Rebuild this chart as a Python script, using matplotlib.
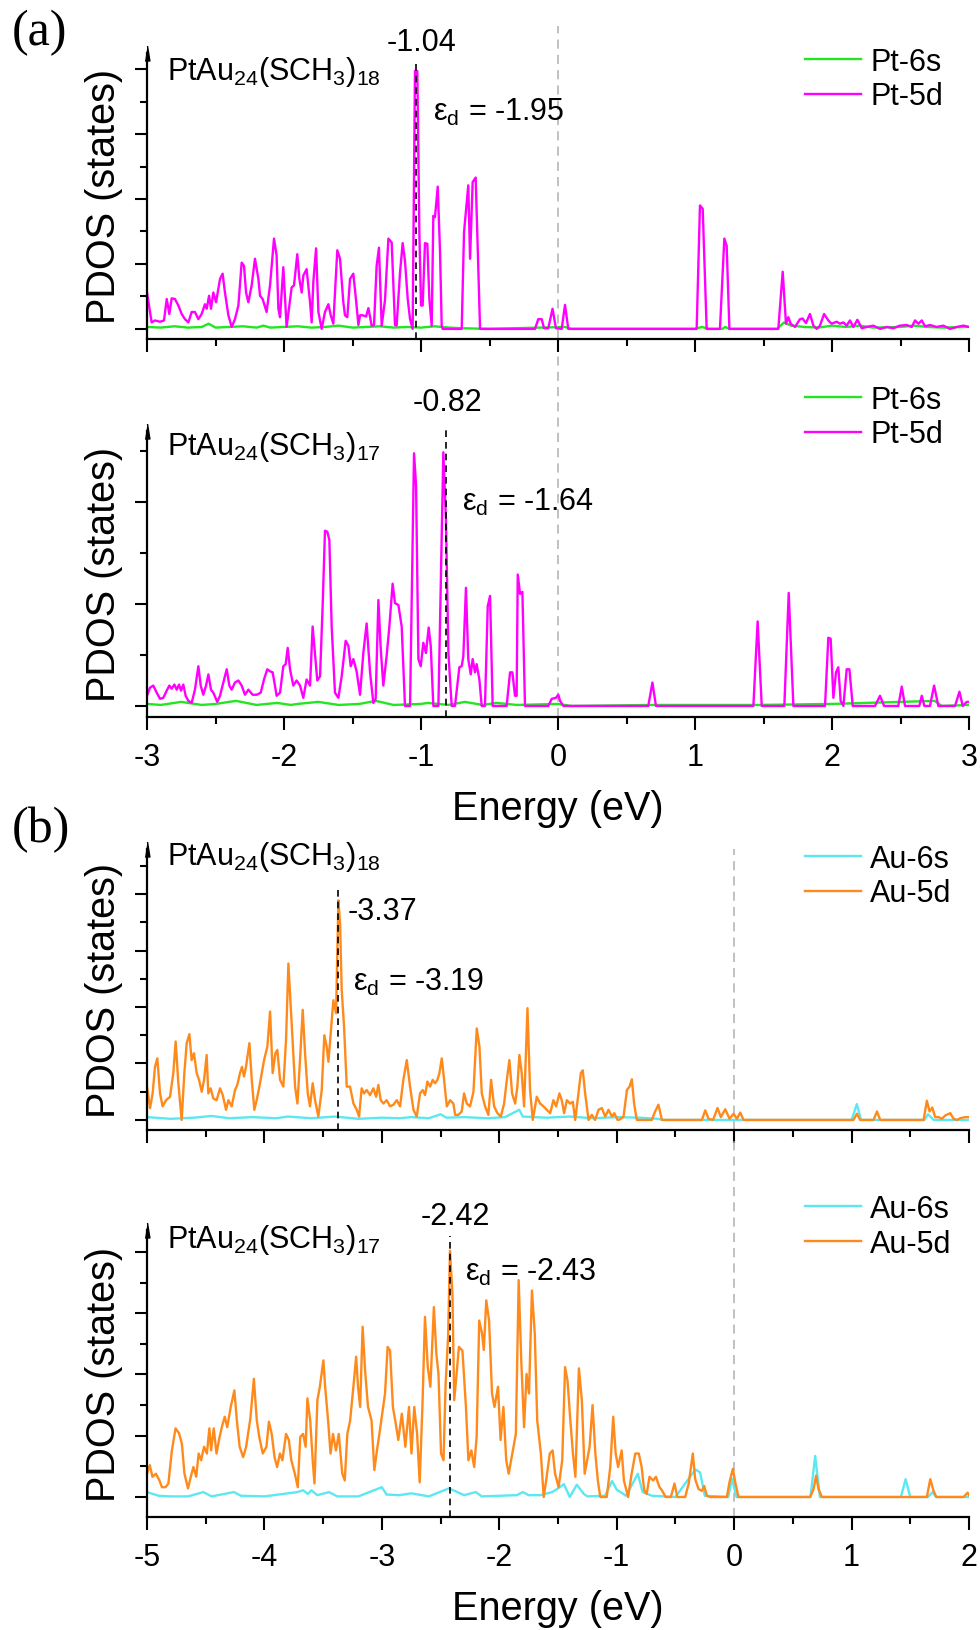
import matplotlib
matplotlib.use('Agg')
import matplotlib.pyplot as plt
from matplotlib.ticker import MultipleLocator

plt.rcParams['font.family'] = ['Liberation Sans', 'DejaVu Sans']
plt.rcParams['mathtext.fontset'] = 'custom'
plt.rcParams['mathtext.rm'] = 'Liberation Sans'
plt.rcParams['mathtext.it'] = 'Liberation Sans:italic'
plt.rcParams['axes.unicode_minus'] = False

# ---- (a) Pt PDOS, PtAu24(SCH3)18 ----
a18_d_e = [-3.000, -2.966, -2.942, -2.905, -2.876, -2.856, -2.837, -2.820, -2.796, -2.771, -2.747, -2.723,
           -2.698, -2.674, -2.650, -2.625, -2.601, -2.577, -2.564, -2.547, -2.533, -2.516, -2.496, -2.479,
           -2.467, -2.448, -2.431, -2.406, -2.382, -2.358, -2.333, -2.309, -2.292, -2.277, -2.260, -2.236,
           -2.212, -2.187, -2.175, -2.156, -2.127, -2.102, -2.073, -2.054, -2.041, -2.029, -2.005, -1.981,
           -1.961, -1.944, -1.927, -1.903, -1.888, -1.871, -1.859, -1.835, -1.810, -1.798, -1.786, -1.766,
           -1.749, -1.725, -1.701, -1.676, -1.659, -1.640, -1.611, -1.591, -1.567, -1.555, -1.538, -1.518,
           -1.494, -1.474, -1.457, -1.445, -1.426, -1.401, -1.384, -1.360, -1.343, -1.324, -1.307, -1.287,
           -1.263, -1.238, -1.214, -1.190, -1.178, -1.153, -1.134, -1.117, -1.097, -1.080, -1.061, -1.044,
           -1.027, -1.012, -1.000, -0.988, -0.971, -0.954, -0.939, -0.922, -0.910, -0.898, -0.878, -0.861,
           -0.849, -0.842, -0.703, -0.686, -0.655, -0.642, -0.623, -0.601, -0.569, -0.168, -0.144, -0.119,
           -0.102, -0.071, -0.040, -0.015, 0.027, 0.051, 0.075, 1.012, 1.036, 1.056, 1.085, 1.182, 1.214,
           1.231, 1.251, 1.608, 1.640, 1.664, 1.681, 1.698, 1.730, 1.766, 1.785, 1.810, 1.839, 1.864, 1.888,
           1.912, 1.942, 1.973, 1.997, 2.034, 2.058, 2.083, 2.107, 2.131, 2.156, 2.185, 2.217, 2.253, 2.302,
           2.350, 2.399, 2.447, 2.496, 2.545, 2.582, 2.606, 2.630, 2.655, 2.679, 2.715, 2.764, 2.813, 2.861,
           2.910, 2.959, 3.000]
a18_d_y = [0.56, 0.10, 0.13, 0.11, 0.13, 0.46, 0.23, 0.47, 0.46, 0.36, 0.23, 0.15,
           0.10, 0.26, 0.26, 0.15, 0.23, 0.38, 0.31, 0.51, 0.31, 0.56, 0.41, 0.62,
           0.77, 0.85, 0.56, 0.21, 0.03, 0.15, 0.36, 1.02, 0.97, 0.56, 0.41, 0.67,
           1.08, 0.77, 0.51, 0.46, 0.26, 0.67, 1.39, 1.13, 0.31, 0.18, 0.95, 0.03,
           0.36, 0.64, 0.67, 1.15, 0.77, 0.56, 0.82, 0.92, 0.41, 0.10, 0.72, 1.24,
           0.26, 0.00, 0.26, 0.38, 0.21, 0.08, 1.21, 1.08, 0.41, 0.21, 0.18, 0.77,
           0.85, 0.44, 0.06, 0.21, 0.21, 0.19, 0.32, 0.05, 0.06, 0.97, 1.25, 0.05,
           0.44, 1.39, 1.33, 0.06, 0.05, 0.87, 1.32, 1.05, 0.46, 0.15, 0.00, 3.97,
           3.97, 1.49, 0.36, 0.36, 1.32, 1.31, 0.46, 0.05, 1.74, 1.72, 2.19, 1.18,
           0.05, 0.00, 0.00, 1.49, 2.21, 1.08, 2.26, 2.33, 0.00, 0.00, 0.15, 0.15,
           0.01, 0.01, 0.31, 0.01, 0.00, 0.37, 0.00, 0.00, 1.90, 1.85, 0.00, 0.00, 1.39,
           1.28, 0.00, 0.00, 0.88, 0.08, 0.18, 0.08, 0.03, 0.15, 0.16, 0.09, 0.23, 0.05, 0.00,
           0.05, 0.23, 0.13, 0.08, 0.11, 0.08, 0.10, 0.05, 0.13, 0.03, 0.14, 0.01, 0.03, 0.05,
           0.00, 0.03, 0.01, 0.05, 0.06, 0.03, 0.13, 0.08, 0.13, 0.04, 0.06, 0.03, 0.05, 0.00,
           0.03, 0.05, 0.03]
a18_s_e = [-3.0, -2.9, -2.8, -2.7, -2.6, -2.55, -2.5, -2.4, -2.3, -2.2, -2.15, -2.1, -2.0, -1.9, -1.8,
           -1.7, -1.6, -1.5, -1.4, -1.3, -1.2, -1.1, -1.0, -0.9, -0.8, -0.7, -0.5, 0.05, 0.1, 1.0, 1.05,
           1.1, 1.2, 1.22, 1.25, 1.6, 1.65, 1.7, 1.8, 1.9, 2.0, 2.1, 2.2, 2.3, 2.5, 2.6, 2.7, 2.8, 3.0]
a18_s_y = [0.03, 0.02, 0.04, 0.02, 0.03, 0.08, 0.02, 0.03, 0.04, 0.02, 0.05, 0.02, 0.03, 0.04, 0.02,
           0.03, 0.05, 0.02, 0.03, 0.04, 0.02, 0.03, 0.02, 0.04, 0.02, 0.01, 0.00, 0.03, 0.00, 0.00, 0.03,
           0.00, 0.00, 0.03, 0.00, 0.00, 0.10, 0.05, 0.03, 0.02, 0.05, 0.03, 0.05, 0.02, 0.03, 0.05, 0.03,
           0.02, 0.03]

# ---- (a) Pt PDOS, PtAu24(SCH3)17 ----
a17_d_e = [-3.000, -2.978, -2.954, -2.929, -2.905, -2.881, -2.856, -2.837, -2.820, -2.800, -2.783, -2.766,
           -2.752, -2.735, -2.718, -2.698, -2.674, -2.650, -2.625, -2.608, -2.589, -2.569, -2.552, -2.533,
           -2.516, -2.487, -2.467, -2.443, -2.418, -2.399, -2.382, -2.358, -2.333, -2.309, -2.285, -2.260,
           -2.229, -2.200, -2.170, -2.146, -2.122, -2.102, -2.083, -2.066, -2.054, -2.029, -2.005, -1.988,
           -1.973, -1.956, -1.932, -1.908, -1.883, -1.859, -1.835, -1.810, -1.791, -1.774, -1.757, -1.737,
           -1.718, -1.701, -1.684, -1.669, -1.652, -1.628, -1.603, -1.579, -1.550, -1.530, -1.513, -1.494,
           -1.470, -1.445, -1.421, -1.397, -1.372, -1.348, -1.331, -1.311, -1.294, -1.275, -1.251, -1.231,
           -1.207, -1.190, -1.165, -1.141, -1.117, -1.080, -1.051, -1.036, -1.019, -1.002, -0.983, -0.964,
           -0.944, -0.929, -0.910, -0.873, -0.837, -0.818, -0.800, -0.776, -0.752, -0.720, -0.703, -0.691,
           -0.672, -0.655, -0.637, -0.623, -0.606, -0.594, -0.574, -0.557, -0.533, -0.513, -0.496, -0.477,
           -0.375, -0.350, -0.333, -0.314, -0.302, -0.294, -0.277, -0.260, -0.241, -0.071, -0.046, -0.015,
           0.002, 0.015, 0.039, 0.659, 0.689, 0.715, 1.426, 1.457, 1.487, 1.652, 1.684, 1.718, 1.949, 1.973,
           1.990, 2.010, 2.029, 2.046, 2.063, 2.083, 2.107, 2.127, 2.151, 2.314, 2.350, 2.380, 2.484, 2.509,
           2.533, 2.637, 2.655, 2.674, 2.715, 2.745, 2.776, 2.898, 2.930, 2.954, 2.983, 3.000]
a17_d_y = [0.10, 0.18, 0.20, 0.13, 0.07, 0.08, 0.15, 0.20, 0.17, 0.21, 0.16, 0.21,
           0.15, 0.21, 0.10, 0.05, 0.03, 0.16, 0.39, 0.20, 0.11, 0.20, 0.31, 0.16,
           0.13, 0.04, 0.10, 0.23, 0.36, 0.20, 0.16, 0.23, 0.25, 0.20, 0.11, 0.16,
           0.11, 0.11, 0.13, 0.26, 0.36, 0.34, 0.33, 0.20, 0.10, 0.13, 0.39, 0.41,
           0.57, 0.36, 0.20, 0.25, 0.20, 0.08, 0.26, 0.20, 0.78, 0.52, 0.25, 0.29,
           0.98, 1.72, 1.71, 1.63, 0.78, 0.13, 0.08, 0.29, 0.64, 0.59, 0.39, 0.46,
           0.34, 0.11, 0.52, 0.81, 0.33, 0.03, 0.07, 1.04, 0.56, 0.20, 0.49, 0.78,
           1.20, 1.01, 0.99, 0.78, 0.00, 0.00, 2.48, 2.16, 0.46, 0.39, 0.62, 0.52,
           0.77, 0.59, 0.00, 0.00, 2.49, 1.83, 0.52, 0.00, 0.00, 0.38, 0.39, 0.49,
           1.16, 0.46, 0.31, 0.46, 0.33, 0.41, 0.26, 0.00, 0.00, 0.98, 1.08, 0.00,
           0.00, 0.33, 0.33, 0.10, 0.10, 1.29, 1.10, 1.12, 0.00, 0.00, 0.07, 0.08,
           0.11, 0.05, 0.00, 0.00, 0.23, 0.00, 0.00, 0.83, 0.00, 0.00, 1.11, 0.00, 0.00, 0.67,
           0.66, 0.08, 0.33, 0.38, 0.05, 0.00, 0.36, 0.36, 0.00, 0.00, 0.10, 0.00, 0.00, 0.19,
           0.00, 0.00, 0.10, 0.00, 0.00, 0.20, 0.00, 0.00, 0.14, 0.00, 0.04, 0.04]
a17_s_e = [-3.0, -2.9, -2.75, -2.6, -2.5, -2.35, -2.2, -2.05, -1.95, -1.9, -1.75, -1.6, -1.45, -1.33,
           -1.2, -1.0, -0.95, -0.8, -0.68, -0.55, -0.45, -0.3, 0.0, 0.1, 0.69, 1.46, 2.0, 2.75, 2.8, 3.0]
a17_s_y = [0.02, 0.01, 0.04, 0.01, 0.02, 0.05, 0.01, 0.03, 0.01, 0.02, 0.04, 0.01, 0.02, 0.05,
           0.01, 0.02, 0.03, 0.01, 0.04, 0.01, 0.03, 0.01, 0.02, 0.00, 0.01, 0.01, 0.02, 0.05, 0.00, 0.01]

# ---- (b) Au PDOS, PtAu24(SCH3)18 ----
b18_d_e = [-5.000, -4.974, -4.952, -4.932, -4.912, -4.889, -4.867, -4.838, -4.804, -4.776, -4.756, -4.733,
           -4.705, -4.682, -4.662, -4.639, -4.620, -4.600, -4.577, -4.557, -4.534, -4.514, -4.492, -4.478,
           -4.458, -4.435, -4.407, -4.378, -4.355, -4.327, -4.307, -4.279, -4.250, -4.231, -4.208, -4.191,
           -4.174, -4.157, -4.128, -4.108, -4.086, -4.066, -4.043, -4.023, -4.003, -3.975, -3.952, -3.930,
           -3.907, -3.890, -3.867, -3.839, -3.816, -3.796, -3.776, -3.759, -3.739, -3.719, -3.697, -3.674,
           -3.654, -3.631, -3.612, -3.589, -3.569, -3.541, -3.512, -3.490, -3.470, -3.455, -3.436, -3.413,
           -3.390, -3.370, -3.356, -3.342, -3.322, -3.299, -3.271, -3.242, -3.214, -3.194, -3.172, -3.152,
           -3.129, -3.101, -3.072, -3.049, -3.030, -3.010, -2.987, -2.959, -2.930, -2.902, -2.873, -2.845,
           -2.817, -2.788, -2.760, -2.731, -2.703, -2.675, -2.652, -2.632, -2.612, -2.589, -2.567, -2.547,
           -2.527, -2.510, -2.490, -2.470, -2.447, -2.419, -2.391, -2.376, -2.348, -2.320, -2.300, -2.277,
           -2.249, -2.220, -2.192, -2.169, -2.149, -2.121, -2.093, -2.070, -2.044, -2.016, -1.987, -1.959,
           -1.936, -1.914, -1.891, -1.865, -1.846, -1.829, -1.809, -1.789, -1.760, -1.738, -1.715, -1.681,
           -1.652, -1.624, -1.596, -1.567, -1.539, -1.516, -1.488, -1.468, -1.448, -1.425, -1.397, -1.374,
           -1.354, -1.326, -1.306, -1.289, -1.269, -1.240, -1.212, -1.184, -1.155, -1.127, -1.098, -1.070,
           -1.041, -1.021, -0.993, -0.971, -0.942, -0.913, -0.891, -0.871, -0.852, -0.829, -0.701, -0.673,
           -0.645, -0.615, -0.275, -0.246, -0.218, -0.180, -0.142, -0.113, -0.076, -0.039, -0.005, 0.023,
           0.052, 0.080, 1.016, 1.045, 1.073, 1.187, 1.216, 1.244, 1.613, 1.641, 1.664, 1.687, 1.712, 1.741,
           1.769, 1.798, 1.840, 1.869, 1.897, 1.925, 1.968, 2.000]
b18_d_y = [0.59, 0.21, 0.47, 0.94, 1.09, 0.47, 0.24, 0.35, 0.41, 0.83, 1.39, 0.65,
           0.00, 0.83, 1.36, 1.52, 1.06, 1.18, 0.83, 0.71, 0.50, 0.71, 1.15, 0.47,
           0.56, 0.38, 0.35, 0.56, 0.44, 0.18, 0.35, 0.24, 0.53, 0.62, 0.83, 0.94,
           0.77, 0.94, 1.36, 0.71, 0.18, 0.35, 0.59, 0.83, 1.06, 1.30, 1.92, 0.83,
           1.18, 1.24, 0.71, 0.59, 1.42, 2.77, 1.99, 1.36, 0.59, 0.29, 1.06, 1.95,
           1.18, 0.47, 0.24, 0.65, 0.35, 0.06, 0.53, 1.50, 1.30, 1.03, 1.53, 2.12,
           1.89, 3.89, 3.48, 2.30, 1.65, 0.59, 0.59, 0.29, 0.18, 0.06, 0.56, 0.47,
           0.53, 0.44, 0.56, 0.41, 0.62, 0.35, 0.29, 0.35, 0.24, 0.27, 0.35, 0.24,
           0.71, 1.06, 0.59, 0.18, 0.06, 0.47, 0.53, 0.44, 0.68, 0.59, 0.71, 0.65,
           0.71, 0.83, 1.09, 0.71, 0.24, 0.35, 0.29, 0.09, 0.09, 0.15, 0.47, 0.29,
           0.24, 0.50, 1.62, 1.30, 0.47, 0.24, 0.09, 0.71, 0.24, 0.12, 0.06, 0.29,
           0.71, 1.06, 0.47, 0.29, 0.59, 1.15, 0.83, 0.24, 1.98, 0.53, 0.00, 0.41,
           0.29, 0.24, 0.18, 0.12, 0.35, 0.24, 0.47, 0.35, 0.12, 0.35, 0.29, 0.32,
           0.00, 0.47, 0.83, 0.88, 0.47, 0.00, 0.09, 0.00, 0.18, 0.21, 0.06, 0.18,
           0.06, 0.12, 0.00, 0.01, 0.06, 0.53, 0.59, 0.72, 0.29, 0.00, 0.00, 0.15,
           0.27, 0.00, 0.00, 0.17, 0.02, 0.00, 0.21, 0.05, 0.19, 0.02, 0.11, 0.02,
           0.13, 0.00, 0.00, 0.11, 0.00, 0.00, 0.15, 0.00, 0.00, 0.34, 0.15, 0.22, 0.05, 0.05,
           0.02, 0.08, 0.12, 0.02, 0.00, 0.03, 0.05, 0.05]
b18_s_e = [-5.0, -4.8, -4.6, -4.45, -4.3, -4.1, -3.9, -3.8, -3.6, -3.4, -3.2, -3.0, -2.85, -2.75, -2.6,
           -2.5, -2.45, -2.3, -2.1, -1.95, -1.83, -1.8, -1.6, -1.4, -1.2, -1.0, -0.8, -0.65, -0.6, 1.0,
           1.045, 1.08, 1.62, 1.65, 1.7, 2.0]
b18_s_y = [0.05, 0.02, 0.04, 0.07, 0.03, 0.05, 0.03, 0.06, 0.03, 0.06, 0.02, 0.04, 0.03, 0.05, 0.03,
           0.10, 0.04, 0.05, 0.03, 0.05, 0.18, 0.06, 0.04, 0.06, 0.03, 0.05, 0.04, 0.02, 0.00, 0.00,
           0.28, 0.00, 0.00, 0.10, 0.00, 0.00]

# ---- (b) Au PDOS, PtAu24(SCH3)17 ----
b17_d_e = [-5.000, -4.976, -4.954, -4.924, -4.894, -4.873, -4.842, -4.818, -4.788, -4.757, -4.727, -4.703,
           -4.681, -4.651, -4.627, -4.605, -4.581, -4.560, -4.539, -4.514, -4.490, -4.469, -4.454, -4.432,
           -4.408, -4.387, -4.363, -4.338, -4.317, -4.287, -4.256, -4.235, -4.211, -4.181, -4.156, -4.120,
           -4.090, -4.065, -4.044, -4.014, -3.983, -3.962, -3.938, -3.914, -3.892, -3.868, -3.847, -3.816,
           -3.792, -3.771, -3.741, -3.716, -3.695, -3.671, -3.649, -3.634, -3.610, -3.589, -3.574, -3.549,
           -3.528, -3.498, -3.483, -3.458, -3.437, -3.416, -3.391, -3.367, -3.337, -3.316, -3.294, -3.270,
           -3.240, -3.219, -3.203, -3.185, -3.164, -3.143, -3.118, -3.088, -3.064, -3.042, -3.021, -2.997,
           -2.973, -2.951, -2.930, -2.906, -2.882, -2.860, -2.830, -2.800, -2.769, -2.748, -2.724, -2.700,
           -2.678, -2.654, -2.633, -2.609, -2.587, -2.557, -2.536, -2.518, -2.496, -2.475, -2.457, -2.436,
           -2.420, -2.399, -2.384, -2.366, -2.344, -2.314, -2.284, -2.263, -2.238, -2.214, -2.193, -2.171,
           -2.147, -2.132, -2.111, -2.087, -2.062, -2.041, -2.011, -1.989, -1.965, -1.941, -1.920, -1.889,
           -1.859, -1.835, -1.813, -1.789, -1.768, -1.747, -1.722, -1.698, -1.677, -1.646, -1.622, -1.601,
           -1.570, -1.546, -1.525, -1.495, -1.464, -1.440, -1.419, -1.395, -1.373, -1.352, -1.322, -1.297,
           -1.273, -1.252, -1.231, -1.206, -1.182, -1.161, -1.140, -1.085, -1.055, -1.030, -1.009, -0.988,
           -0.958, -0.939, -0.903, -0.873, -0.842, -0.812, -0.788, -0.766, -0.745, -0.721, -0.690, -0.666,
           -0.636, -0.615, -0.584, -0.539, -0.508, -0.484, -0.417, -0.387, -0.352, -0.332, -0.303, -0.275,
           -0.255, -0.232, -0.204, -0.062, -0.040, -0.011, 0.009, 0.037, 0.647, 0.676, 0.698, 0.718, 0.747,
           1.641, 1.670, 1.698, 1.721, 1.954, 1.988, 2.000]
b17_d_y = [0.38, 0.52, 0.33, 0.38, 0.27, 0.16, 0.16, 0.22, 0.76, 1.12, 1.04, 0.87,
           0.38, 0.14, 0.33, 0.49, 0.33, 0.71, 0.60, 0.82, 0.71, 1.12, 0.76, 1.12,
           0.71, 0.93, 1.14, 1.31, 1.14, 1.47, 1.74, 1.25, 0.82, 0.65, 0.82, 1.28,
           1.93, 1.25, 0.98, 0.71, 0.82, 1.23, 1.03, 0.65, 0.49, 0.71, 0.60, 1.03,
           0.93, 0.60, 0.38, 0.16, 0.98, 1.03, 0.82, 1.61, 1.25, 0.60, 0.22, 1.58,
           1.80, 2.23, 1.80, 1.25, 0.71, 1.03, 0.76, 1.03, 0.38, 0.27, 1.03, 1.25,
           1.85, 2.29, 1.80, 1.47, 2.78, 2.07, 1.47, 1.25, 0.44, 0.76, 1.03, 1.36,
           1.69, 2.45, 2.39, 1.47, 1.20, 0.93, 1.36, 0.82, 1.47, 0.71, 1.47, 1.03,
           0.24, 1.52, 2.94, 2.12, 1.80, 3.10, 2.34, 2.01, 0.71, 0.60, 1.85, 2.61,
           4.02, 3.32, 1.58, 1.96, 2.45, 2.39, 1.47, 0.60, 0.76, 0.49, 0.98, 2.88,
           2.67, 2.40, 3.21, 2.88, 1.69, 1.47, 1.80, 0.93, 1.47, 0.60, 0.38, 0.71,
           1.03, 3.54, 2.23, 1.14, 2.01, 1.69, 3.37, 2.67, 1.25, 0.71, 0.00, 0.27,
           0.71, 0.76, 0.38, 0.16, 0.60, 2.12, 1.90, 1.25, 0.71, 0.33, 2.10, 1.58,
           0.38, 0.60, 0.82, 1.50, 0.71, 0.27, 0.00, 0.00, 0.49, 1.31, 0.71, 0.49,
           0.76, 0.27, 0.00, 0.38, 0.71, 0.71, 0.49, 0.11, 0.05, 0.33, 0.27, 0.33,
           0.16, 0.11, 0.00, 0.00, 0.22, 0.00, 0.00, 0.22, 0.71, 0.29, 0.13, 0.10,
           0.18, 0.02, 0.00, 0.00, 0.24, 0.46, 0.24, 0.00, 0.00, 0.13, 0.35, 0.13, 0.00,
           0.00, 0.29, 0.10, 0.00, 0.00, 0.07, 0.03]
b17_s_e = [-5.0, -4.95, -4.9, -4.8, -4.65, -4.52, -4.45, -4.26, -4.2, -4.0, -3.72, -3.67, -3.63, -3.6,
           -3.55, -3.45, -3.38, -3.2, -3.0, -2.96, -2.85, -2.75, -2.6, -2.43, -2.38, -2.3, -2.2, -2.15,
           -1.85, -1.8, -1.75, -1.65, -1.55, -1.5, -1.45, -1.4, -1.34, -1.28, -1.25, -1.1, -1.04, -1.0,
           -0.92, -0.82, -0.78, -0.7, -0.5, -0.33, -0.29, -0.25, -0.05, -0.02, 0.02, 0.65, 0.69, 0.73,
           1.42, 1.46, 1.5, 1.65, 1.69, 1.72, 2.0]
b17_s_y = [0.08, 0.05, 0.02, 0.01, 0.01, 0.08, 0.01, 0.08, 0.02, 0.01, 0.08, 0.11, 0.05, 0.11,
           0.03, 0.08, 0.01, 0.01, 0.16, 0.04, 0.03, 0.06, 0.01, 0.14, 0.10, 0.03, 0.08, 0.01,
           0.03, 0.08, 0.03, 0.03, 0.08, 0.14, 0.21, 0.00, 0.20, 0.05, 0.01, 0.02, 0.26, 0.12,
           0.02, 0.38, 0.08, 0.02, 0.00, 0.45, 0.40, 0.02, 0.00, 0.30, 0.00, 0.00, 0.67, 0.00,
           0.00, 0.29, 0.00, 0.00, 0.08, 0.00, 0.00]

titles = [r'PtAu$_{24}$(SCH$_3$)$_{18}$', r'PtAu$_{24}$(SCH$_3$)$_{17}$',
          r'PtAu$_{24}$(SCH$_3$)$_{18}$', r'PtAu$_{24}$(SCH$_3$)$_{17}$']
peak_e = [-1.04, -0.82, -3.37, -2.42]
eps_d = [-1.95, -1.64, -3.19, -2.43]
labels_s = ['Pt-6s', 'Pt-6s', 'Au-6s', 'Au-6s']
labels_d = ['Pt-5d', 'Pt-5d', 'Au-5d', 'Au-5d']

c_pt_s, c_pt_d = '#22e622', '#ff00ff'
c_au_s, c_au_d = '#5ce8f0', '#ff8a1c'

fig = plt.figure(figsize=(9.8, 16.31), dpi=100)

# panel rects (figure fraction), axes limits, decorations
rects = [[0.15, 0.7916, 0.8388, 0.1754], [0.15, 0.5598, 0.8388, 0.1754],
         [0.15, 0.3066, 0.8388, 0.1723], [0.15, 0.0693, 0.8388, 0.1760]]
ylims = [(-0.154, 4.25), (-0.108, 2.70), (-0.177, 4.80), (-0.326, 4.36)]
xlims = [(-3, 3), (-3, 3), (-5, 2), (-5, 2)]
series = [(a18_s_e, a18_s_y, a18_d_e, a18_d_y), (a17_s_e, a17_s_y, a17_d_e, a17_d_y),
          (b18_s_e, b18_s_y, b18_d_e, b18_d_y), (b17_s_e, b17_s_y, b17_d_e, b17_d_y)]
colors = [(c_pt_s, c_pt_d), (c_pt_s, c_pt_d), (c_au_s, c_au_d), (c_au_s, c_au_d)]
fermi_top = [1.094, 1.276, 1.0, 1.33]
peak_top = [0.98, 1.01, 0.87, 0.98]
peak_lbl = [(0.3345, 1.038, 'center'), (0.365, 1.101, 'center'), (0.2445, 0.779, 'left'), (0.3753, 1.049, 'center')]
eps_lbl = [(0.348, 0.794), (0.383, 0.752), (0.2506, 0.530), (0.3869, 0.854)]
title_y = [0.909, 0.92, 0.947, 0.941]
leg_y = [1.021, 1.161, 1.018, 1.125]

for i in range(4):
    ax = fig.add_axes(rects[i])
    se, sy, de, dy = series[i]
    cs, cd = colors[i]
    ax.plot(se, sy, color=cs, lw=1.7, label=labels_s[i])
    ax.plot(de, dy, color=cd, lw=1.7, label=labels_d[i])
    ax.set_xlim(*xlims[i])
    ax.set_ylim(*ylims[i])

    ax.axvline(0, ymin=0, ymax=fermi_top[i], color='#b0b0b0', lw=1.1, ls=(0, (6, 4)), clip_on=False, zorder=0)
    ax.axvline(peak_e[i], ymin=0, ymax=peak_top[i], color='k', lw=1.2, ls=(0, (4, 3)), clip_on=False, zorder=3)

    for s in ['top', 'right']:
        ax.spines[s].set_visible(False)
    for s in ['left', 'bottom']:
        ax.spines[s].set_linewidth(1.6)
    ax.xaxis.set_major_locator(MultipleLocator(1))
    ax.xaxis.set_minor_locator(MultipleLocator(0.5))
    ax.yaxis.set_major_locator(MultipleLocator(1))
    ax.yaxis.set_minor_locator(MultipleLocator(0.5))
    ax.tick_params(which='major', direction='out', length=9, width=1.5, labelsize=22, pad=9)
    ax.tick_params(which='minor', direction='out', length=5, width=1.5)
    ax.tick_params(axis='y', which='both', labelleft=False)
    if i in (0, 2):
        ax.tick_params(axis='x', which='both', labelbottom=False)
    else:
        ax.set_xlabel('Energy (eV)', fontsize=28.5, labelpad=12)
    ax.set_ylabel('PDOS (states)', fontsize=28.5)
    ax.yaxis.set_label_coords(-0.029, 0.5)

    # arrow head on top of the y axis
    ax.plot([0], [1], marker=[(-0.32, -1), (0.32, -1), (0, 1)], ms=10.8, color='k',
            transform=ax.transAxes, clip_on=False)

    ax.text(0.0243, title_y[i], titles[i], transform=ax.transAxes, fontsize=22, va='baseline', ha='left')
    px, py, pha = peak_lbl[i]
    ax.text(px, py, f'{peak_e[i]:.2f}', transform=ax.transAxes, fontsize=22, va='center', ha=pha)
    ex, ey = eps_lbl[i]
    ax.text(ex, ey, r'ε$_\mathrm{d}$ = ' + f'{eps_d[i]:.2f}', transform=ax.transAxes,
            fontsize=22, va='center', ha='left')

    ax.legend(loc='upper left', bbox_to_anchor=(0.80, leg_y[i]), frameon=False, fontsize=22,
              handlelength=1.85, handletextpad=0.3, labelspacing=0.15, borderpad=0, borderaxespad=0)

fig.text(12 / 980, 1 - 33 / 1631, '(a)', family='Liberation Serif', fontsize=36, va='center', ha='left')
fig.text(12 / 980, 1 - 830 / 1631, '(b)', family='Liberation Serif', fontsize=36, va='center', ha='left')

fig.savefig('out.png', dpi=100)
